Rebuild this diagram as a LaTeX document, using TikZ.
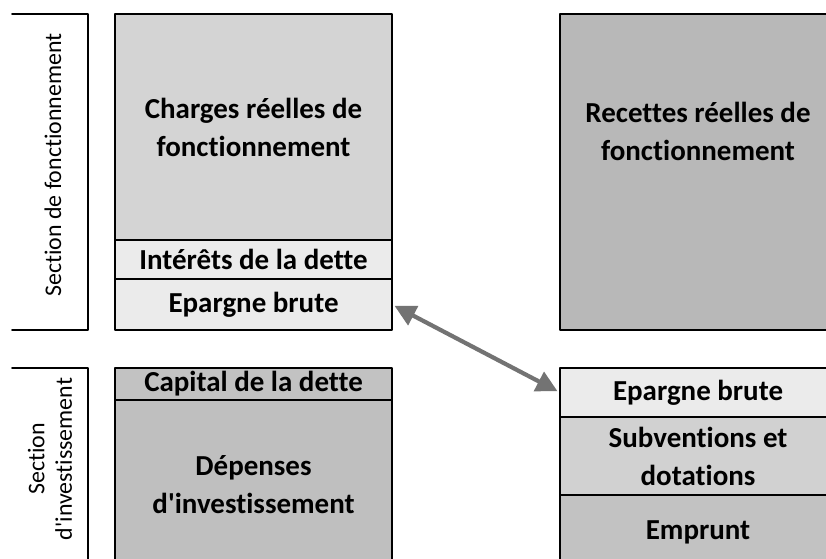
\documentclass[tikz,border=0pt]{standalone}
\usepackage{fontspec}
\setmainfont{Carlito}[Ligatures={NoCommon}]
\usetikzlibrary{positioning,arrows.meta}
\begin{document}
\begin{tikzpicture}[x=0.025cm, y=-0.025cm, line cap=round, line join=round,
  bloc/.style={draw=black, line width=1.2pt, outer sep=0pt, inner sep=2pt, align=center,
    minimum width=6.925cm, font=\fontsize{20.6}{27}\selectfont\bfseries},
  blocd/.style={bloc, minimum width=6.9cm},
  cadre/.style={draw=black, line width=1.2pt},
  titre/.style={rotate=90, align=center, font=\fontsize{17}{19.5}\selectfont},
  fleche/.style={draw=black!55, line width=3pt, {Triangle[length=15pt,width=15pt]}-{Triangle[length=15pt,width=15pt]}, shorten <=2pt, shorten >=2pt}]
  \useasboundingbox (0,0) rectangle (826,558);
  \clip (0,0) rectangle (826,558);
  % section labels
  \draw[cadre] (12,14) -- (88,14) -- (88,330) -- (12,330);
  \node[titre] (secF) at (53,165) {Section de fonctionnement};
  \draw[cadre] (12,368) -- (88,368) -- (88,580);
  \node[titre] (secI) at (50,459) {Section\\d\textquotesingle investissement};
  % fonctionnement, charges
  \node[bloc, fill=black!17, minimum height=5.65cm, anchor=north west] (charges) at (115,14) {Charges réelles de\\fonctionnement};
  \node[bloc, fill=black!8, minimum height=0.975cm, below=0pt of charges] (interets) {Intérêts de la dette};
  \node[bloc, fill=black!8, minimum height=1.275cm, below=0pt of interets] (epargneF) {Epargne brute};
  % fonctionnement, recettes
  \node[blocd, fill=black!28, minimum height=7.9cm, anchor=north west] (recettes) at (560,14) {Recettes réelles de\\fonctionnement\\[1.1cm]};
  % investissement, depenses
  \node[bloc, fill=black!24, minimum height=0.8cm, anchor=north west] (capital) at (115,368) {Capital de la dette};
  \node[bloc, fill=black!25, minimum height=4.25cm, below=0pt of capital] (depenses) {Dépenses\\d\textquotesingle investissement};
  % investissement, recettes
  \node[blocd, fill=black!8, minimum height=1.225cm, anchor=north west] (epargneI) at (560,368) {Epargne brute};
  \node[blocd, fill=black!18, minimum height=1.95cm, below=0pt of epargneI] (subventions) {Subventions et\\dotations};
  \node[blocd, fill=black!24, minimum height=1.875cm, below=0pt of subventions] (emprunt) {Emprunt};
  % transfert de l'epargne
  \draw[fleche] (epargneF.east) -- (epargneI.west);
\end{tikzpicture}
\end{document}
